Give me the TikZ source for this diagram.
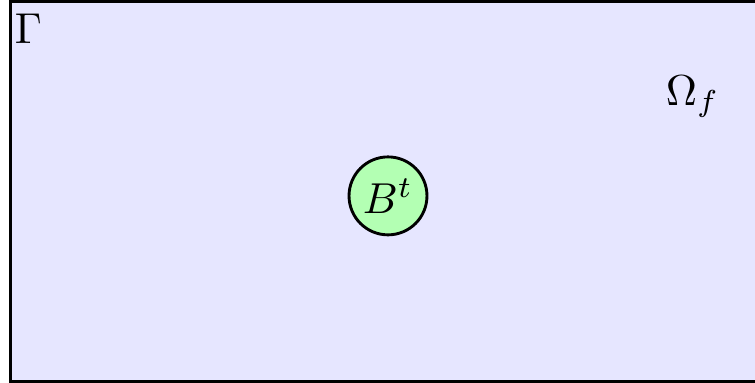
\documentclass[tikz,border=0pt]{standalone}
\usepackage{amsmath}
\usepackage{tikz}
\usetikzlibrary{positioning}
\definecolor{FluidBlue}{HTML}{E6E6FF}
\definecolor{BodyGreen}{HTML}{B3FFB3}

\begin{document}
\begin{tikzpicture}[
    fluidbox/.style={draw=black, line width=1pt, fill=FluidBlue},
    body/.style={circle, draw=black, line width=1pt, fill=BodyGreen, minimum size=0.95cm, inner sep=0pt},
    lbl/.style={inner sep=0pt, scale=1.5}
  ]
    \useasboundingbox (0,0) rectangle (9.2,4.667);
    \clip (0,0) rectangle (9.2,4.667);
    \draw[fluidbox] (0.128,0.018) rectangle (9.3,4.649);
    \node[body] (bt) at (4.728,2.28) {};
    \node[lbl] (btl) at (bt) {$B^t$};
    \node[lbl, anchor=base west] (gam) at (0.17,4.131) {$\Gamma$};
    \node[lbl, anchor=base west] (omf) at (8.103,3.387) {$\Omega_f$};
  \end{tikzpicture}
\end{document}
